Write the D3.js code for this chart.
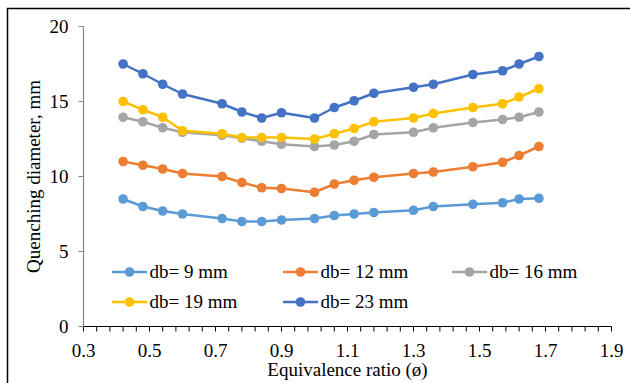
<!DOCTYPE html>
<html>
<head>
<meta charset="utf-8">
<script src="https://cdn.jsdelivr.net/npm/d3@7"></script>
<style>
  body { margin: 0; background: #fff; }
  svg text { font-family: "Liberation Serif", "Times New Roman", serif; fill: #000; }
</style>
</head>
<body>
<svg id="chart" width="630" height="383"></svg>
<script>
// equivalence ratio values
const phi = [0.42, 0.48, 0.54, 0.60, 0.72, 0.78, 0.84, 0.90, 1.00, 1.06, 1.12, 1.18, 1.30, 1.36, 1.48, 1.57, 1.62, 1.68];

const db9  = [8.5, 8.0, 7.7, 7.5, 7.2, 7.0, 7.0, 7.1, 7.2, 7.4, 7.5, 7.6, 7.75, 8.0, 8.15, 8.25, 8.5, 8.55];
const db12 = [11.0, 10.75, 10.5, 10.2, 10.0, 9.6, 9.25, 9.2, 8.95, 9.5, 9.75, 9.95, 10.2, 10.3, 10.65, 10.95, 11.4, 12.0];
const db16 = [13.95, 13.65, 13.25, 12.95, 12.75, 12.55, 12.35, 12.15, 12.0, 12.1, 12.35, 12.8, 12.95, 13.25, 13.6, 13.8, 13.95, 14.3];
const db19 = [15.0, 14.45, 13.95, 13.05, 12.85, 12.6, 12.6, 12.6, 12.5, 12.85, 13.2, 13.65, 13.9, 14.2, 14.6, 14.85, 15.3, 15.85];
const db23 = [17.5, 16.85, 16.15, 15.5, 14.85, 14.3, 13.9, 14.25, 13.9, 14.6, 15.05, 15.55, 15.95, 16.15, 16.8, 17.05, 17.5, 18.0];

const seriesNames = ["db= 9 mm", "db= 12 mm", "db= 16 mm", "db= 19 mm", "db= 23 mm"];
const seriesColors = ["#5B9BD5", "#ED7D31", "#A5A5A5", "#FFC000", "#4472C4"];
const seriesValues = [db9, db12, db16, db19, db23];

const xTicks = [0.3, 0.5, 0.7, 0.9, 1.1, 1.3, 1.5, 1.7, 1.9];
const yTicks = [0, 5, 10, 15, 20];

const svg = d3.select('#chart');
const fs = 19;

// chart border
svg.append('rect')
  .attr('x', 7.5).attr('y', 8.5)
  .attr('width', 640).attr('height', 400)
  .attr('fill', 'none').attr('stroke', '#000').attr('stroke-width', 1.5);

// scales
const x = d3.scaleLinear().domain([0.3, 1.9]).range([83.5, 611.5]);
const y = d3.scaleLinear().domain([0, 20]).range([326.5, 26.5]);

// x axis with minor ticks every 0.04
const minorTicks = d3.range(0, 41).map(i => 0.3 + i * 0.04);
const xAxisG = svg.append('g').attr('transform', `translate(0,${y(0)})`);
xAxisG.append('line')
  .attr('x1', x(0.3)).attr('x2', x(1.9))
  .attr('stroke', '#000').attr('stroke-width', 1.2);
xAxisG.selectAll('line.tick')
  .data(minorTicks)
  .enter()
  .append('line')
  .attr('class', 'tick')
  .attr('x1', d => x(d)).attr('x2', d => x(d))
  .attr('y1', 0).attr('y2', 5)
  .attr('stroke', '#000').attr('stroke-width', 1);
xAxisG.selectAll('text')
  .data(xTicks)
  .enter()
  .append('text')
  .attr('x', d => x(d))
  .attr('y', 30)
  .attr('text-anchor', 'middle')
  .attr('font-size', fs)
  .text(d => d.toFixed(1));

// y axis
const yAxisG = svg.append('g').attr('transform', `translate(${x(0.3)},0)`);
yAxisG.append('line')
  .attr('y1', y(0)).attr('y2', y(20))
  .attr('stroke', '#868686').attr('stroke-width', 1.2);
yAxisG.selectAll('line.tick')
  .data(yTicks)
  .enter()
  .append('line')
  .attr('class', 'tick')
  .attr('x1', -5).attr('x2', 0)
  .attr('y1', d => y(d)).attr('y2', d => y(d))
  .attr('stroke', '#868686').attr('stroke-width', 1);
yAxisG.selectAll('text')
  .data(yTicks)
  .enter()
  .append('text')
  .attr('x', -15)
  .attr('y', d => y(d))
  .attr('dy', '0.33em')
  .attr('text-anchor', 'end')
  .attr('font-size', fs)
  .text(d => d);

// axis titles
svg.append('text')
  .attr('x', (x(0.3) + x(1.9)) / 2)
  .attr('y', 376)
  .attr('text-anchor', 'middle')
  .attr('font-size', fs)
  .text('Equivalence ratio (ø)');

svg.append('text')
  .attr('transform', `translate(40,${(y(0) + y(20)) / 2}) rotate(-90)`)
  .attr('text-anchor', 'middle')
  .attr('font-size', fs)
  .text('Quenching diameter, mm');

// series lines and markers
const lineGen = d3.line()
  .x((d, i) => x(phi[i]))
  .y(d => y(d));

seriesValues.forEach((vals, s) => {
  const g = svg.append('g');
  g.append('path')
    .datum(vals)
    .attr('d', lineGen)
    .attr('fill', 'none')
    .attr('stroke', seriesColors[s])
    .attr('stroke-width', 2.5)
    .attr('stroke-linejoin', 'round');
  g.selectAll('circle')
    .data(vals)
    .enter()
    .append('circle')
    .attr('cx', (d, i) => x(phi[i]))
    .attr('cy', d => y(d))
    .attr('r', 4.8)
    .attr('fill', seriesColors[s]);
});

// legend: 3 columns, 2 rows
const legendX = [112, 283, 452];
const legendY = [272, 302];
seriesNames.forEach((name, i) => {
  const lx = legendX[i % 3];
  const ly = legendY[Math.floor(i / 3)];
  const g = svg.append('g').attr('transform', `translate(${lx},${ly})`);
  g.append('line')
    .attr('x1', 0).attr('x2', 35)
    .attr('stroke', seriesColors[i]).attr('stroke-width', 2.5);
  g.append('circle')
    .attr('cx', 17.5).attr('r', 4.8)
    .attr('fill', seriesColors[i]);
  g.append('text')
    .attr('x', 37.5)
    .attr('dy', '0.33em')
    .attr('font-size', fs)
    .text(name);
});
</script>
</body>
</html>
